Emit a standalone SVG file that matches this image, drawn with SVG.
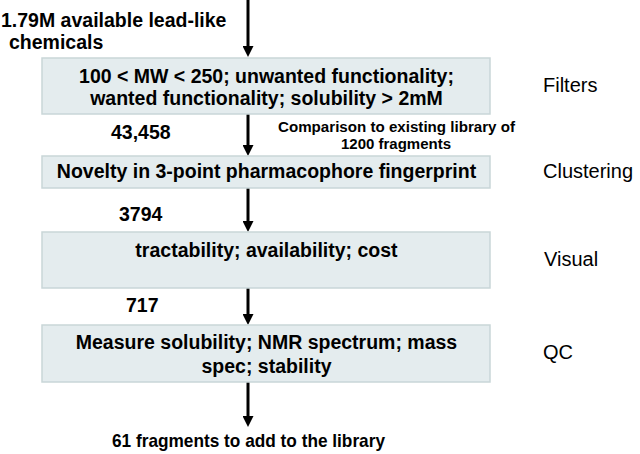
<svg xmlns="http://www.w3.org/2000/svg" width="640" height="454" viewBox="0 0 640 454">
<defs>
<marker id="ah" markerWidth="12" markerHeight="11" refX="1" refY="5.5" orient="auto" markerUnits="userSpaceOnUse" viewBox="0 0 12 11">
<path d="M0,0 L11,5.5 L0,11 Z" fill="#000"/>
</marker>
</defs>
<style>
.box{fill:#e4ecee;stroke:#c9d6d8;stroke-width:1.5}
.t{font-family:"Liberation Sans",Arial,sans-serif;fill:#000}
.b{font-weight:bold}
.bx{font-size:19.5px;font-weight:bold;text-anchor:middle}
.side{font-size:20px}
.num{font-size:19.5px;font-weight:bold}
.con{stroke:#000;stroke-width:3;fill:none}
</style>
<rect width="640" height="454" fill="#fff"/>
<g id="connectors">
<line class="con" x1="248" y1="0" x2="248" y2="47" marker-end="url(#ah)"/>
<line class="con" x1="248" y1="114" x2="248" y2="146" marker-end="url(#ah)"/>
<line class="con" x1="248" y1="188" x2="248" y2="222" marker-end="url(#ah)"/>
<line class="con" x1="248" y1="288" x2="248" y2="315" marker-end="url(#ah)"/>
<line class="con" x1="248" y1="382" x2="248" y2="417" marker-end="url(#ah)"/>
</g>
<g id="start">
<text class="t b" x="1" y="27" font-size="19.5">1.79M available lead-like</text>
<text class="t b" x="9" y="49" font-size="19.5">chemicals</text>
</g>
<g id="filters">
<rect class="box" x="42" y="58" width="448" height="56"/>
<text class="t bx" x="266.5" y="83">100 &lt; MW &lt; 250; unwanted functionality;</text>
<text class="t bx" x="266.5" y="105">wanted functionality; solubility &gt; 2mM</text>
</g>
<text class="t side" x="543" y="92">Filters</text>
<text class="t num" x="111" y="139">43,458</text>
<text class="t b" x="278" y="132" font-size="14" textLength="237" lengthAdjust="spacingAndGlyphs">Comparison to existing library of</text>
<text class="t b" x="341" y="149" font-size="14" textLength="110" lengthAdjust="spacingAndGlyphs">1200 fragments</text>
<g id="clustering">
<rect class="box" x="42" y="156" width="448" height="32"/>
<text class="t bx" x="266.5" y="178">Novelty in 3-point pharmacophore fingerprint</text>
</g>
<text class="t side" x="543" y="178">Clustering</text>
<text class="t num" x="119" y="221">3794</text>
<g id="visual">
<rect class="box" x="42" y="232" width="448" height="56"/>
<text class="t bx" x="266.5" y="257">tractability; availability; cost</text>
</g>
<text class="t side" x="544" y="266">Visual</text>
<text class="t num" x="126" y="312">717</text>
<g id="qc">
<rect class="box" x="42" y="325" width="448" height="57"/>
<text class="t bx" x="266.5" y="349">Measure solubility; NMR spectrum; mass</text>
<text class="t bx" x="266.5" y="373">spec; stability</text>
</g>
<text class="t side" x="543" y="359">QC</text>
<g id="end">
<text class="t b" x="112" y="447" font-size="19" textLength="273" lengthAdjust="spacingAndGlyphs">61 fragments to add to the library</text>
</g>
</svg>
